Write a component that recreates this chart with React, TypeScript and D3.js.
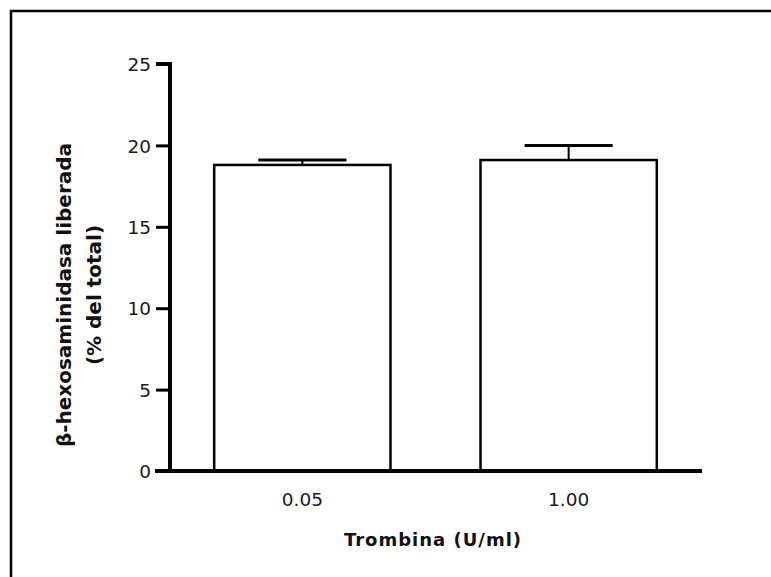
import React, { useEffect, useRef } from "react";
import * as d3 from "d3";

const categories = ["0.05", "1.00"];
const means = [18.8, 19.1];
const errors = [0.3, 0.9];
const yTicks = [0, 5, 10, 15, 20, 25];

const W = 771;
const H = 577;

const App = () => {
  const ref = useRef<SVGSVGElement>(null);

  useEffect(() => {
    const svg = d3.select(ref.current);
    svg.selectAll("*").remove();

    // frame
    svg
      .append("path")
      .attr("d", `M11,${H} V11 H${W}`)
      .attr("fill", "none")
      .attr("stroke", "#000")
      .attr("stroke-width", 2.5);

    const y = d3.scaleLinear().domain([0, 25]).range([471, 64]);
    const x = d3
      .scaleBand()
      .domain(categories)
      .range([170, 701])
      .paddingInner(0.338)
      .paddingOuter(0.166);

    const font = "DejaVu Sans, Verdana, sans-serif";

    // y axis
    const yAxis = d3.axisLeft(y).tickValues(yTicks).tickSize(14).tickPadding(5);
    const gy = svg.append("g").attr("transform", "translate(170,0)").call(yAxis);
    gy.select(".domain").attr("stroke-width", 4).attr("d", `M-14,${y(25)}H0V${y(0)}`);
    gy.selectAll(".tick line").attr("stroke-width", 3);
    gy.selectAll(".tick text")
      .attr("font-family", font)
      .attr("font-size", 18.5)
      .attr("fill", "#1a1a1a")
      .attr("dy", "0.36em");

    // bars
    svg
      .selectAll(".bar")
      .data(categories)
      .join("rect")
      .attr("class", "bar")
      .attr("x", (d) => x(d)!)
      .attr("y", (d, i) => y(means[i]))
      .attr("width", x.bandwidth())
      .attr("height", (d, i) => y(0) - y(means[i]))
      .attr("fill", "#fff")
      .attr("stroke", "#000")
      .attr("stroke-width", 2.5);

    // error bars (upper only)
    const cap = x.bandwidth() / 2;
    categories.forEach((c, i) => {
      const cx = x(c)! + x.bandwidth() / 2;
      svg
        .append("line")
        .attr("x1", cx)
        .attr("x2", cx)
        .attr("y1", y(means[i]))
        .attr("y2", y(means[i] + errors[i]))
        .attr("stroke", "#000")
        .attr("stroke-width", 2);
      svg
        .append("line")
        .attr("x1", cx - cap / 2)
        .attr("x2", cx + cap / 2)
        .attr("y1", y(means[i] + errors[i]))
        .attr("y2", y(means[i] + errors[i]))
        .attr("stroke", "#000")
        .attr("stroke-width", 3);
    });

    // x axis
    const xAxis = d3.axisBottom(x).tickSize(0).tickPadding(22);
    const gx = svg.append("g").attr("transform", `translate(0,${y(0)})`).call(xAxis);
    gx.select(".domain").attr("stroke-width", 4).attr("d", "M155,0H702");
    gx.selectAll(".tick text")
      .attr("font-family", font)
      .attr("font-size", 18.5)
      .attr("fill", "#1a1a1a");

    // axis titles
    svg
      .append("text")
      .attr("x", 433)
      .attr("y", 546)
      .attr("text-anchor", "middle")
      .attr("font-family", font)
      .attr("font-weight", "bold")
      .attr("font-size", 18)
      .attr("letter-spacing", 1)
      .attr("fill", "#111")
      .text("Trombina (U/ml)");

    const yt = svg
      .append("text")
      .attr("transform", "translate(0,295) rotate(-90)")
      .attr("text-anchor", "middle")
      .attr("font-family", font)
      .attr("font-weight", "bold")
      .attr("font-size", 20)
      .attr("fill", "#111");
    yt.append("tspan").attr("x", 0).attr("y", 71).text("β-hexosaminidasa liberada");
    yt.append("tspan").attr("x", 0).attr("y", 101).text("(% del total)");
  }, []);

  return (
    <svg
      ref={ref}
      width={W}
      height={H}
      style={{ position: "absolute", left: 0, top: 0, background: "#fff" }}
    />
  );
};

export default App;
